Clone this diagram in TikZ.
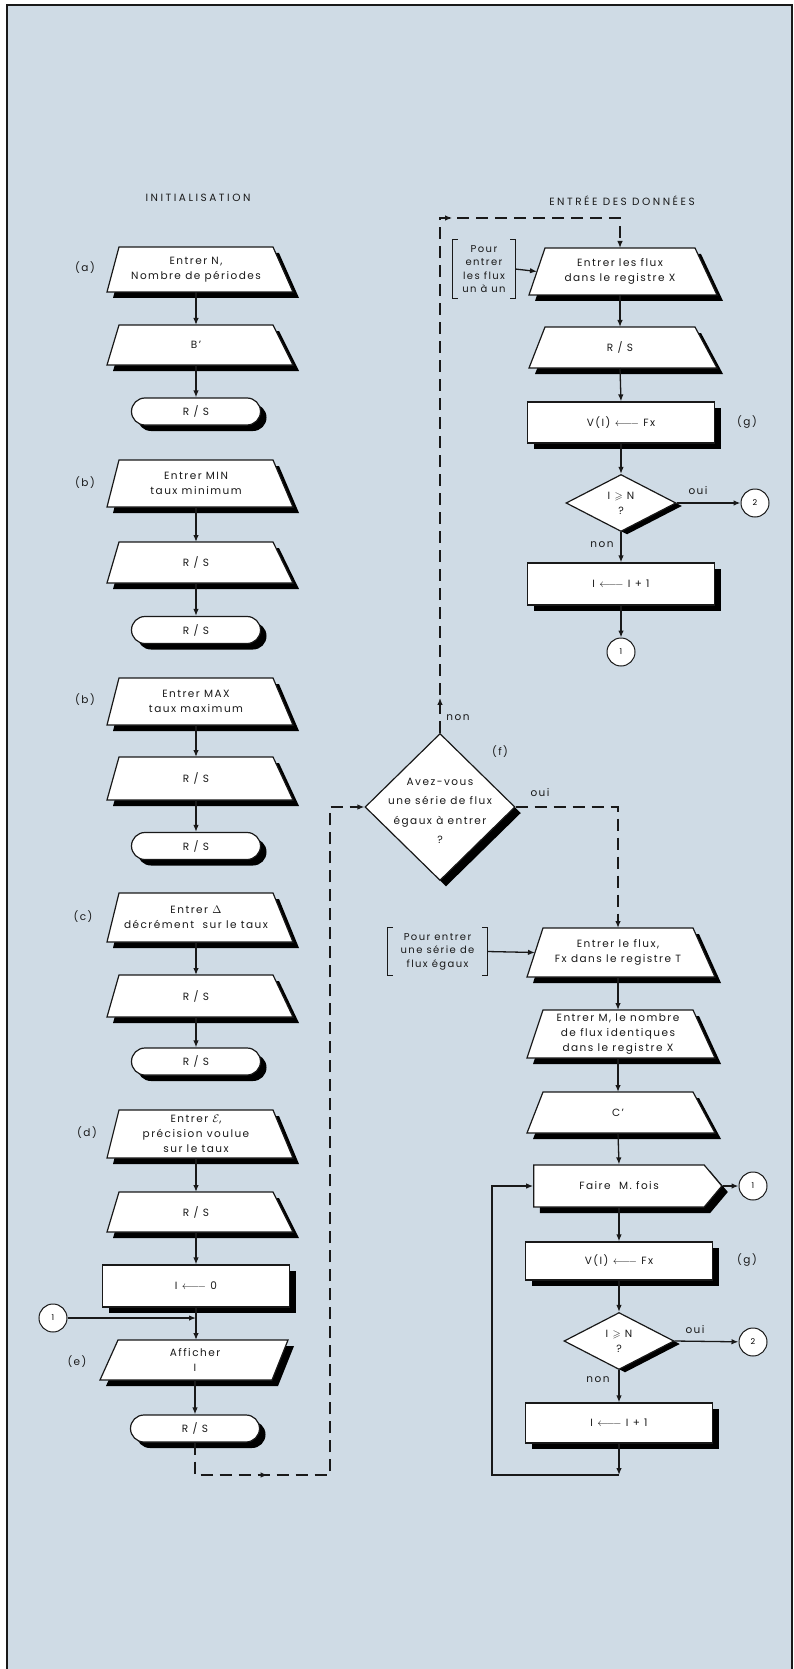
\documentclass[tikz,border=0pt]{standalone}
\usepackage{amsmath,amssymb}
\usepackage{fontspec}
\setmainfont{Poppins}[LetterSpace=14]
\usetikzlibrary{shapes.geometric,shapes.misc,shapes.symbols,shadows,arrows.meta,decorations.markings}

\definecolor{fondbleu}{RGB}{207,219,229}
\definecolor{encre}{RGB}{25,25,25}
\newcommand{\recoit}{\ensuremath{\leftarrow\joinrel\relbar\joinrel\relbar}}
% outline + shadow of a keyboard box: node, top-left, top-right, bottom-left, bottom-right shifts
\newcommand{\dessinforme}[5]{%
  \fill[black] ([shift={(#2+6,6)}]#1.north west) -- ([shift={(#3+6,6)}]#1.north east)
    -- ([shift={(#5+6,6)}]#1.south east) -- ([shift={(#4+6,6)}]#1.south west) -- cycle;
  \filldraw[fill=white, draw=encre, line width=1.2pt] ([xshift=#2]#1.north west) -- ([xshift=#3]#1.north east)
    -- ([xshift=#5]#1.south east) -- ([xshift=#4]#1.south west) -- cycle;}

\pgfdeclarelayer{fond}
\pgfsetlayers{fond,main}

\tikzset{
  texte/.style={font=\fontsize{10.5}{15}\selectfont, text=encre},
  titre/.style={font=\fontsize{10.5}{13}\selectfont\addfontfeatures{LetterSpace=24}, text=encre},
  ombre/.style={drop shadow={shadow xshift=6pt, shadow yshift=-6pt, fill=black, opacity=1}},
  ombretest/.style={drop shadow={shadow xshift=6pt, shadow yshift=-3pt, fill=black, opacity=1}},
  boite/.style={texte, draw=encre, fill=white, line width=1.2pt, align=center, inner sep=2pt},
  clavier/.style={texte, align=center, rectangle, inner sep=2pt, outer sep=0pt, minimum width=154pt},
  calcul/.style={boite, ombre, rectangle, minimum width=187pt, minimum height=42pt},
  arret/.style={boite, ombre, rounded rectangle, minimum width=133pt, minimum height=27pt},
  test/.style={boite, ombretest, diamond, minimum width=110pt, minimum height=57pt, inner sep=0pt},
  choixforme/.style={boite, ombre, diamond, minimum width=150pt, minimum height=147pt, inner sep=0pt},
  faire/.style={boite, ombre, signal, signal to=east, signal pointer angle=100,
    minimum width=188pt, minimum height=42pt},
  connecteur/.style={draw=encre, fill=white, line width=1pt, circle, minimum size=28pt,
    inner sep=0pt, font=\fontsize{8}{9}\selectfont},
  etiq/.style={texte},
  crochettexte/.style={texte, align=center, minimum width=62pt, minimum height=58pt,
    inner sep=0pt, font=\fontsize{10}{13.5}\selectfont},
  crochet/.style={draw=encre, line width=1.1pt},
  fleche/.style={draw=encre, line width=1.3pt, -{Latex[length=7pt,width=5.5pt]}},
  tirets/.style={dash pattern=on 12pt off 7pt},
  flechemi/.style={postaction={decorate, decoration={markings,
    mark=at position #1 with {\arrow{Latex[length=7pt,width=5.5pt]}}}}}
}

\begin{document}
\begin{tikzpicture}[x=1pt, y=-1pt]
    \useasboundingbox (0,0) rectangle (794,1669);
    % Background and frame
    \begin{pgfonlayer}{fond}
    \fill[white] (0,0) rectangle (794,1669);
    \fill[fondbleu] (7,5) rectangle (792,1669);
    \draw[encre, line width=2.5pt] (7,1669) -- (7,5) -- (792,5) -- (792,1669);
    \end{pgfonlayer}

    % Draw nodes: initialisation
    \node[titre] (init) at (198,198) {INITIALISATION};
    \node[clavier, minimum height=45pt] (na) at (196,269.5) {Entrer N,\\Nombre de périodes};
    \node[clavier, minimum height=40pt] (bprime) at (196,345) {B'};
    \node[arret] (arret1) at (196,411.5) {R / S};
    \node[clavier, minimum height=47pt] (min) at (196,483.5) {Entrer MIN\\taux minimum};
    \node[clavier, minimum height=41pt] (rs1) at (196,562.5) {R / S};
    \node[arret] (arret2) at (196,630) {R / S};
    \node[clavier, minimum height=47pt] (max) at (196,701.5) {Entrer MAX\\taux maximum};
    \node[clavier, minimum height=43pt] (rs2) at (196,778.5) {R / S};
    \node[arret] (arret3) at (196,846) {R / S};
    \node[clavier, minimum height=49pt] (delta) at (196,917.5) {Entrer $\Delta$\\décrément \ sur le taux};
    \node[clavier, minimum height=42pt] (rs3) at (196,996) {R / S};
    \node[arret] (arret4) at (196,1061.5) {R / S};
    \node[clavier, minimum height=48pt] (eps) at (196,1134) {Entrer $\mathcal{E}$,\\précision voulue\\sur le taux};
    \node[clavier, minimum height=40pt] (rs4) at (196,1212) {R / S};
    \node[calcul] (izero) at (196,1286) {I \recoit\ 0};
    \node[clavier, minimum width=172pt, minimum height=40pt] (aff) at (195,1360) {Afficher\\I};
    \node[arret] (arret5) at (195,1428.5) {R / S};
    \node[connecteur] (un0) at (53,1318) {1};
    \coordinate (jonction) at (196,1318);

    % Draw nodes: entree des donnees
    \node[titre] (entree) at (622,201) {ENTRÉE DES DONNÉES};
    \node[clavier, minimum width=150pt, minimum height=47pt] (flux) at (620,271.5) {Entrer les flux\\dans le registre X};
    \node[crochettexte] (unaun) at (484,269) {Pour\\entrer\\les flux\\un à un};
    \node[clavier, minimum width=150pt, minimum height=41pt] (rs5) at (620,347.5) {R / S};
    \node[calcul, minimum height=41pt] (vi1) at (621,422.5) {V(I) \recoit\ Fx};
    \node[test] (test1) at (621,503) {I $\geqslant$ N\\?};
    \node[connecteur] (deux1) at (755,503) {2};
    \node[calcul] (inc1) at (621,584) {I \recoit\ I + 1};
    \node[connecteur] (un1) at (621,652) {1};

    \node[choixforme] (choix) at (440,807) {};
    \node[texte, align=center, font=\fontsize{10.5}{19.5}\selectfont] (choixtxt) at (440,811) {Avez-vous\\une série de flux\\égaux à entrer\\?};
    \node[crochettexte, minimum width=99pt, minimum height=47pt] (serie) at (437.5,951.5) {Pour entrer\\une série de\\flux égaux};
    \node[clavier, minimum width=150pt, minimum height=49pt] (fluxt) at (618,952.5) {Entrer le flux,\\Fx dans le registre T};
    \node[clavier, minimum width=150pt, minimum height=48pt] (nbm) at (618,1034) {Entrer M, le nombre\\de flux identiques\\dans le registre X};
    \node[clavier, minimum width=150pt, minimum height=41pt] (cprime) at (618,1112.5) {C'};
    \node[faire] (faire) at (619,1186) {Faire \ M. fois};
    \node[connecteur] (un2) at (753,1186) {1};
    \node[calcul, minimum height=38pt] (vi2) at (619,1261) {V(I) \recoit\ Fx};
    \node[test] (test2) at (619,1341) {I $\geqslant$ N\\?};
    \node[connecteur] (deux2) at (753,1342) {2};
    \node[calcul, minimum height=40pt] (inc2) at (619,1423) {I \recoit\ I + 1};
    \coordinate (retour) at (619,1475);
    \coordinate (retourg) at (492,1475);

    % Keyboard boxes behind their texts
    \begin{pgfonlayer}{fond}
    \foreach \n in {na, bprime, min, rs1, max, rs2, delta, rs3, eps, rs4}
        \dessinforme{\n}{0}{0}{-12}{20};
    \foreach \n in {flux, rs5, fluxt, nbm, cprime}
        \dessinforme{\n}{0}{0}{-16}{22};
    \dessinforme{aff}{9}{7}{-9}{-9};
    \end{pgfonlayer}

    % Brackets
    \draw[crochet] ([xshift=5pt]unaun.north west) -- (unaun.north west) -- (unaun.south west) -- ([xshift=5pt]unaun.south west);
    \draw[crochet] ([xshift=-5pt]unaun.north east) -- (unaun.north east) -- (unaun.south east) -- ([xshift=-5pt]unaun.south east);
    \draw[crochet] ([xshift=5pt]serie.north west) -- (serie.north west) -- (serie.south west) -- ([xshift=5pt]serie.south west);
    \draw[crochet] ([xshift=-5pt]serie.north east) -- (serie.north east) -- (serie.south east) -- ([xshift=-5pt]serie.south east);

    % Draw connections
    \foreach \a/\b in {na/bprime, bprime/arret1, min/rs1, rs1/arret2, max/rs2, rs2/arret3,
                       delta/rs3, rs3/arret4, eps/rs4, rs4/izero, aff/arret5,
                       flux/rs5, rs5/vi1, vi1/test1, test1/inc1, inc1/un1,
                       fluxt/nbm, nbm/cprime, cprime/faire, faire/vi2, vi2/test2, test2/inc2}
        \draw[fleche] (\a.south) -- (\b.north);
    \draw[fleche] (izero.south) -- (izero.south |- aff.north);
    \draw[fleche] (un0) -- (jonction);
    \draw[fleche] (unaun.east) -- ([xshift=-8pt]flux.west);
    \draw[fleche] (serie.east) -- ([xshift=-8pt]fluxt.west);
    \draw[fleche] (test1.east) -- (deux1);
    \draw[fleche] (test2.east) -- (deux2);
    \draw[fleche] (faire.east) -- (un2);
    \draw[fleche] (inc2.south) -- (retour);
    \draw[fleche] (retour) -- (retourg) |- (faire.west);
    \draw[fleche, tirets, flechemi=105pt] (arret5.south) -- (195,1475) -- (330,1475) |- (choix.west);
    \draw[fleche, tirets, flechemi=35pt, flechemi=527pt] (choix.north) -- (440,218) -| (flux.north);
    \draw[fleche, tirets] (choix.east) -| (fluxt.north);

    % Labels
    \node[etiq] (la) at (85,268) {(a)};
    \node[etiq] (lb1) at (85,483) {(b)};
    \node[etiq] (lb2) at (85,700) {(b)};
    \node[etiq] (lc) at (83,917) {(c)};
    \node[etiq] (ld) at (87,1133) {(d)};
    \node[etiq] (le) at (77,1362) {(e)};
    \node[etiq] (lf) at (500,752) {(f)};
    \node[etiq] (lg1) at (747,422) {(g)};
    \node[etiq] (lg2) at (747,1260) {(g)};
    \node[etiq] (lnon0) at (458,718) {non};
    \node[etiq] (loui0) at (540,793) {oui};
    \node[etiq] (loui1) at (698,491) {oui};
    \node[etiq] (lnon1) at (602,545) {non};
    \node[etiq] (loui2) at (695,1330) {oui};
    \node[etiq] (lnon2) at (598,1380) {non};
\end{tikzpicture}
\end{document}
